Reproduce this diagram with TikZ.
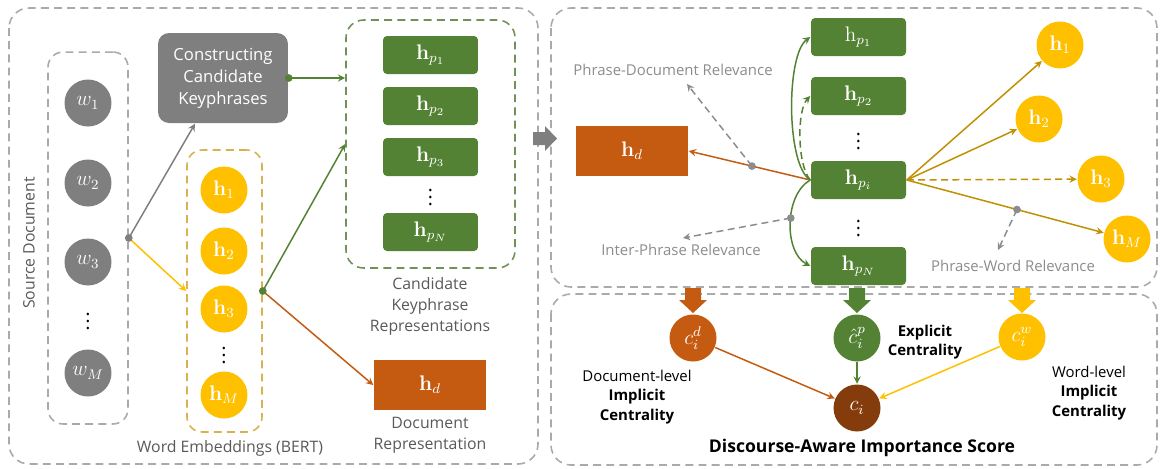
\documentclass[tikz,border=0pt]{standalone}
\usepackage[no-math]{fontspec}
\setmainfont{Open Sans}
\usepackage{amsmath}
\usepackage{amssymb}
\usetikzlibrary{shapes, arrows, calc, positioning}

\definecolor{cGrey}{RGB}{127,127,127}
\definecolor{cYellow}{RGB}{255,192,0}
\definecolor{cGold}{RGB}{191,144,0}
\definecolor{cGreen}{RGB}{84,130,53}
\definecolor{cOrange}{RGB}{197,90,17}
\definecolor{cBrown}{RGB}{132,60,12}
\definecolor{cPanel}{RGB}{170,170,170}
\definecolor{cHBox}{RGB}{214,178,80}
\definecolor{cCand}{RGB}{112,146,88}
\definecolor{cLabel}{RGB}{89,89,89}
\definecolor{cRel}{RGB}{140,140,140}

\newcommand{\circsize}{0.94cm}
\newcommand{\mathsize}{\fontsize{12}{14}\selectfont}
\newcommand{\lblsize}{\fontsize{9}{12}\selectfont}
\newcommand{\relsize}{\fontsize{8.5}{10}\selectfont}
% block arrow pointing down, top centre at (#1,#2)
\newcommand{\blockdown}[3]{\fill[#3] (#1,#2) ++(-8,0) -- ++(16,0) -- ++(0,12) -- ++(6,0) -- ++(-14,13) -- ++(-14,-13) -- ++(6,0) -- cycle;}

\begin{document}
\begin{tikzpicture}[x=0.02cm,y=-0.02cm,>=stealth,line width=0.85pt]
    \useasboundingbox (0,0) rectangle (1162,468);
    \tikzstyle{panel}=[draw=cPanel,dash pattern=on 4.5pt off 3pt,line width=0.9pt,rounded corners=0.4cm]
    \tikzstyle{dashbox}=[dash pattern=on 4.5pt off 3pt,line width=0.9pt,rounded corners=0.3cm,inner sep=0pt]
    \tikzstyle{circ}=[circle,minimum size=\circsize,inner sep=0pt,text=white,font=\mathsize]
    \tikzstyle{hbar}=[rectangle,rounded corners=0.08cm,fill=cGreen,text=white,minimum width=1.9cm,minimum height=0.76cm,inner sep=0pt,font=\mathsize]
    \tikzstyle{docbar}=[rectangle,fill=cOrange,text=white,minimum width=2.24cm,minimum height=1.0cm,inner sep=0pt,font=\mathsize]
    \tikzstyle{dotsym}=[inner sep=0pt,font=\fontsize{11}{11}\selectfont]
    \tikzstyle{lbl}=[text=cLabel,align=center,font=\lblsize]
    \tikzstyle{rel}=[text=cRel,font=\relsize]
    \tikzstyle{relline}=[->,draw=cRel,dash pattern=on 4pt off 2.5pt]
    \tikzstyle{btext}=[align=center,font=\fontsize{8.5}{11}\selectfont]

    % panels
    \draw[panel] (9,8) rectangle (538,464);
    \draw[panel] (551,8) rectangle (1157,287);
    \draw[panel] (551,294) rectangle (1157,465);
    \fill[cGrey] (533,132) -- (545,132) -- (545,126) -- (557,138.5) -- (545,151) -- (545,145) -- (533,145) -- cycle;

    % source document
    \begin{scope}
    \node[dashbox,draw=cPanel,minimum width=1.6cm,minimum height=7.44cm] (wbox) at (88,238) {};
    \node[circ,fill=cGrey] (w_1) at (88,103) {$w_1$};
    \node[circ,fill=cGrey] (w_2) at (88,183) {$w_2$};
    \node[circ,fill=cGrey] (w_3) at (88,262) {$w_3$};
    \node[dotsym] (w_d) at (88,316) {$\vdots$};
    \node[circ,fill=cGrey] (w_M) at (88,373) {$w_M$};
    \node[lbl,rotate=90] (src) at (29,243) {Source Document};
    \end{scope}

    \node[rectangle,rounded corners=0.22cm,fill=cGrey,text=white,align=center,font=\fontsize{9.5}{12.5}\selectfont,minimum width=2.6cm,minimum height=1.8cm] (cons) at (223,78) {Constructing\\Candidate\\Keyphrases};

    % word embeddings
    \begin{scope}
    \node[dashbox,draw=cHBox,minimum width=1.5cm,minimum height=5.64cm] (hbox) at (224.5,291) {};
    \node[circ,fill=cYellow] (h_1) at (224,190) {$\mathbf{h}_1$};
    \node[circ,fill=cYellow] (h_2) at (224,251) {$\mathbf{h}_2$};
    \node[circ,fill=cYellow] (h_3) at (224,309) {$\mathbf{h}_3$};
    \node[dotsym] (h_d) at (224,350) {$\vdots$};
    \node[circ,fill=cYellow] (h_M) at (224,395) {$\mathbf{h}_M$};
    \node[lbl] (embLbl) at (230,448) {Word Embeddings (BERT)};
    \end{scope}

    % candidate keyphrases
    \begin{scope}
    \node[dashbox,draw=cCand,rounded corners=0.35cm,minimum width=3.38cm,minimum height=4.96cm] (cand) at (430.5,144) {};
    \node[hbar] (hp_1) at (430.5,55) {$\mathbf{h}_{p_1}$};
    \node[hbar] (hp_2) at (430.5,106) {$\mathbf{h}_{p_2}$};
    \node[hbar] (hp_3) at (430.5,157) {$\mathbf{h}_{p_3}$};
    \node[dotsym] (hp_d) at (430.5,192) {$\vdots$};
    \node[hbar] (hp_N) at (430.5,232) {$\mathbf{h}_{p_N}$};
    \node[lbl] (candLbl) at (430,306) {Candidate\\Keyphrase\\Representations};
    \node[docbar] (h_doc) at (430,385) {$\mathbf{h}_d$};
    \node[lbl] (docLbl) at (430,435) {Document\\Representation};
    \end{scope}

    \coordinate (wsplit) at (wbox.east);
    \coordinate (hsplit) at (hbox.east);
    \draw[->,cGrey] (wsplit) -- ($(cons.south)+(-28,0)$);
    \draw[->,cYellow] (wsplit) -- (hbox.west);
    \draw[->,cGreen] (cons.east) -- (cons.east -| cand.west);
    \draw[->,cGreen] (hsplit) -- (cand.west);
    \draw[->,cOrange] (hsplit) -- (h_doc.west);
    \fill[cGrey] (wsplit) circle (2.2pt);
    \fill[cGreen] (hsplit) circle (2.2pt);
    \fill[cGreen] (cons.east) circle (2.2pt);

    % relevance graph
    \node[docbar] (r_hd) at (632,151) {$\mathbf{h}_d$};
    \node[hbar] (r_hp1) at (858.5,37) {$\mathrm{h}_{p_1}$};
    \node[hbar] (r_hp2) at (858.5,96) {$\mathbf{h}_{p_2}$};
    \node[dotsym] (r_d1) at (858.5,136) {$\vdots$};
    \node[hbar] (r_hpi) at (858.5,180) {$\mathbf{h}_{p_i}$};
    \node[dotsym] (r_d2) at (858.5,223) {$\vdots$};
    \node[hbar] (r_hpN) at (858.5,266) {$\mathbf{h}_{p_N}$};
    \node[circ,fill=cYellow] (r_h1) at (1060,45) {$\mathbf{h}_1$};
    \node[circ,fill=cYellow] (r_h2) at (1039,119) {$\mathbf{h}_2$};
    \node[circ,fill=cYellow] (r_h3) at (1101,179) {$\mathbf{h}_3$};
    \node[circ,fill=cYellow] (r_hM) at (1127,239) {$\mathbf{h}_M$};

    \node[rel] (pdLbl) at (673,70) {Phrase-Document Relevance};
    \node[rel] (ipLbl) at (681,250) {Inter-Phrase Relevance};
    \node[rel] (pwLbl) at (1013,266) {Phrase-Word Relevance};
    \coordinate (pd_end) at (687,84);
    \coordinate (ip_end) at (683,238);
    \coordinate (pw_end) at (998,250);

    \draw[->,cOrange] (r_hpi.west) -- coordinate[pos=0.48] (pd) (r_hd.east);
    \draw[->,cGreen] (r_hpi.west) .. controls (786,165) and (786,55) .. (r_hp1.west);
    \draw[->,cGreen,dash pattern=on 4pt off 2.5pt] (r_hpi.west) .. controls (797,165) and (797,110) .. (r_hp2.west);
    \draw[->,cGreen] (r_hpi.west) .. controls (784,195) and (784,252) .. coordinate[pos=0.45] (ip) (r_hpN.west);
    \draw[->,cGold] (r_hpi.east) -- (r_h1);
    \draw[->,cGold] (r_hpi.east) -- (r_h2);
    \draw[->,cGold,dash pattern=on 4pt off 2.5pt] (r_hpi.east) -- (r_h3);
    \draw[->,cGold] (r_hpi.east) -- coordinate[pos=0.56] (pw) (r_hM);

    \draw[relline] (pd) -- (pd_end);
    \draw[relline] (ip) -- (ip_end);
    \draw[relline] (pw) -- (pw_end);
    \fill[cRel] (pd) circle (2.2pt);
    \fill[cRel] (ip) circle (2.2pt);
    \fill[cRel] (pw) circle (2.2pt);

    % importance score
    \blockdown{693}{288}{cOrange}
    \blockdown{857}{288}{cGreen}
    \blockdown{1022}{288}{cYellow}
    \node[circ,fill=cOrange] (c_d) at (693,338) {$c_i^d$};
    \node[circ,fill=cGreen] (c_p) at (857,338) {$\hat{c}_i^p$};
    \node[circ,fill=cYellow] (c_w) at (1022,337) {$c_i^w$};
    \node[circ,fill=cBrown] (c_i) at (857,408) {$c_i$};
    \draw[->,cOrange] (c_d) -- (c_i);
    \draw[->,cGreen] (c_p) -- (c_i);
    \draw[->,cYellow] (c_w) -- (c_i);

    \node[btext] (cdLbl) at (637,397) {Document-level\\\textbf{Implicit}\\\textbf{Centrality}};
    \node[btext] (cpLbl) at (925,342) {\textbf{Explicit}\\\textbf{Centrality}};
    \node[btext] (cwLbl) at (1089,393) {Word-level\\\textbf{Implicit}\\\textbf{Centrality}};
    \node[font=\bfseries\fontsize{10}{12}\selectfont] (score) at (862,448) {Discourse-Aware Importance Score};
\end{tikzpicture}
\end{document}
